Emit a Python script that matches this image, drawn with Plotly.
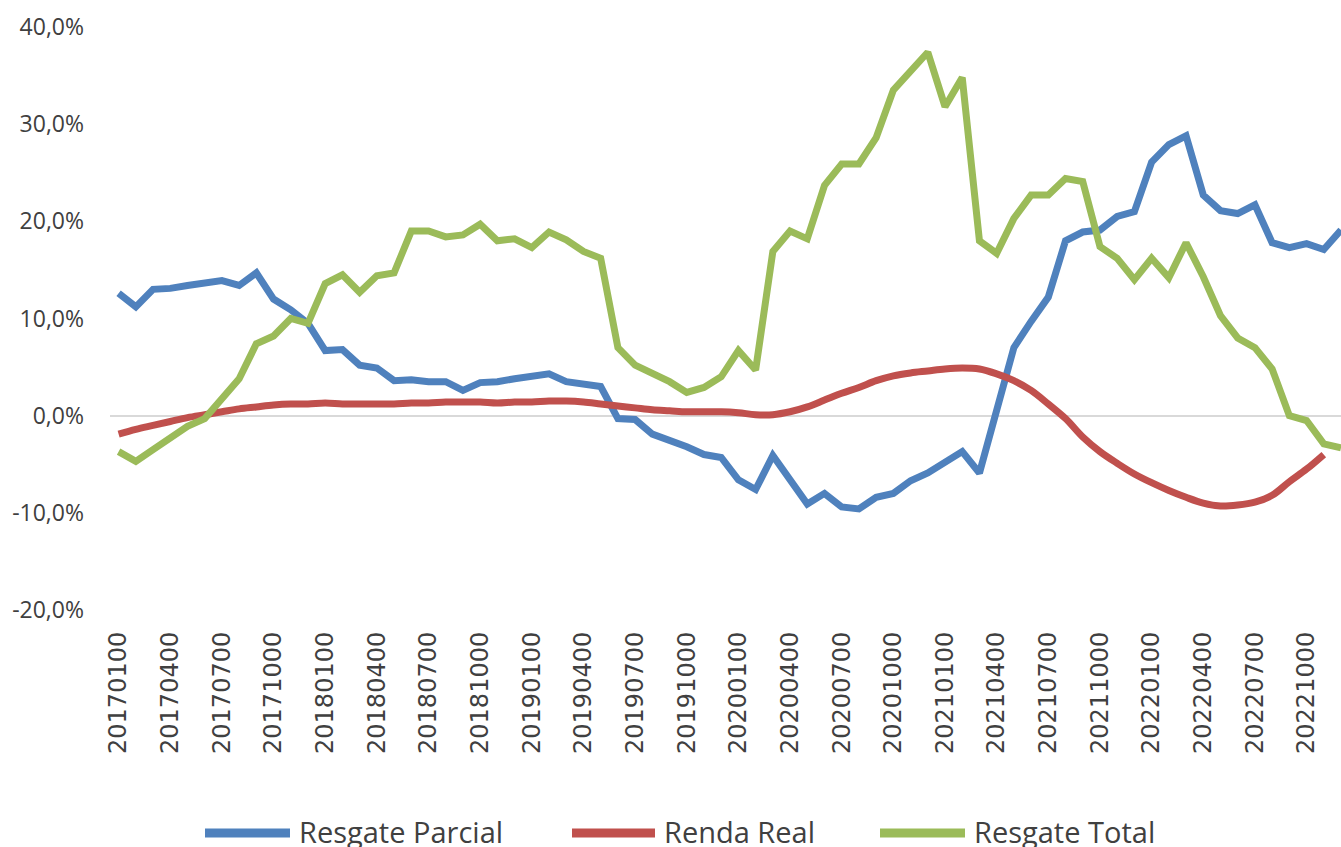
import plotly.graph_objects as go

# Monthly categories (labels as shown on the axis)
years = [2017, 2018, 2019, 2020, 2021, 2022]
months = [f"{y}{m:02d}00" for y in years for m in range(1, 13)]

resgate_parcial = [12.6, 11.2, 13.0, 13.1, 13.4, 13.6, 13.9, 13.4, 14.7, 12.0,
                   10.9, 9.5, 6.7, 6.8, 5.2, 4.9, 3.6, 3.7, 3.5, 3.5,
                   2.6, 3.4, 3.5, 3.8, 4.1, 4.3, 3.5, 3.2, 3.0, -0.3,
                   -0.4, -1.9, -2.5, -3.2, -4.0, -4.3, -6.6, -7.6, -4.1, -6.7,
                   -9.1, -8.0, -9.4, -9.6, -8.4, -8.0, -6.7, -5.9, -4.9, -3.7,
                   -5.9, 0.9, 7.0, 9.7, 12.2, 18.0, 18.9, 19.1, 20.5, 21.0,
                   26.1, 27.9, 28.8, 22.7, 21.1, 20.8, 21.7, 17.8, 17.3, 17.7,
                   17.1, 19.1]

renda_real = [-1.9, -1.4, -1.0, -0.6, -0.2, 0.1, 0.4, 0.7, 0.9, 1.1,
              1.2, 1.2, 1.3, 1.2, 1.2, 1.2, 1.2, 1.3, 1.3, 1.4,
              1.4, 1.4, 1.3, 1.4, 1.4, 1.5, 1.5, 1.4, 1.2, 1.0,
              0.8, 0.6, 0.5, 0.4, 0.4, 0.4, 0.3, 0.1, 0.1, 0.4,
              0.9, 1.6, 2.3, 2.9, 3.6, 4.1, 4.4, 4.6, 4.8, 4.9,
              4.8, 4.3, 3.6, 2.6, 1.2, -0.3, -2.2, -3.7, -4.9, -6.0,
              -6.9, -7.7, -8.4, -9.0, -9.3, -9.2, -8.9, -8.2, -6.8, -5.5,
              -4.0, None]

resgate_total = [-3.7, -4.7, -3.5, -2.4, -1.1, -0.3, 1.8, 3.8, 7.4, 8.2,
                 10.0, 9.5, 13.6, 14.5, 12.7, 14.4, 14.7, 19.0, 19.0, 18.4,
                 18.6, 19.7, 18.0, 18.2, 17.3, 18.9, 18.1, 16.9, 16.2, 7.0,
                 5.2, 4.4, 3.5, 2.4, 2.9, 4.0, 6.7, 4.7, 16.9, 19.0,
                 18.2, 23.7, 25.9, 25.9, 28.6, 33.5, 35.5, 37.4, 31.8, 34.8,
                 18.0, 16.7, 20.3, 22.7, 22.7, 24.4, 24.1, 17.4, 16.2, 14.0,
                 16.2, 14.2, 17.8, 14.3, 10.3, 8.0, 7.0, 4.8, 0.0, -0.5,
                 -2.9, -3.3]

y_tick_values = [-0.2, -0.1, 0.0, 0.1, 0.2, 0.3, 0.4]
y_tick_labels = ["-20,0%", "-10,0%", "0,0%", "10,0%", "20,0%", "30,0%", "40,0%"]

series_names = ["Resgate Parcial", "Renda Real", "Resgate Total"]
series_colors = ["#4F81BD", "#C0504D", "#9BBB59"]
series_values = [resgate_parcial, renda_real, resgate_total]
series_shapes = ["linear", "spline", "linear"]

W, H = 1341, 847
L, R, T, B = 110, 0, 27, H - 610

fig = go.Figure()
for name, color, vals, shp in zip(series_names, series_colors, series_values, series_shapes):
    fig.add_trace(go.Scatter(
        x=months,
        y=[None if v is None else v / 100 for v in vals],
        mode="lines",
        name=name,
        line=dict(color=color, width=7, shape=shp),
        showlegend=False,
        connectgaps=False,
    ))

# manual legend (long line samples as in the original), pixel positions
def px_to_paper_x(px):
    return (px - L) / (W - L - R)

def py_to_paper_y(py):
    return (H - B - py) / (H - T - B)

legend_items = [(205, 290, 297), (572, 655, 662), (880, 965, 972)]
for (x0, x1, xt), name, color in zip(legend_items, series_names, series_colors):
    fig.add_shape(type="line", xref="paper", yref="paper",
                  x0=px_to_paper_x(x0), x1=px_to_paper_x(x1),
                  y0=py_to_paper_y(833), y1=py_to_paper_y(833),
                  line=dict(color=color, width=9))
    fig.add_annotation(xref="paper", yref="paper",
                       x=px_to_paper_x(xt), y=py_to_paper_y(831),
                       xanchor="left", yanchor="middle", showarrow=False,
                       text=name,
                       font=dict(family="Open Sans", size=29, color="#404040"))

fig.update_layout(
    width=W, height=H,
    margin=dict(l=L, r=R, t=T, b=B),
    paper_bgcolor="white", plot_bgcolor="white",
    showlegend=False,
)
fig.update_xaxes(
    type="category",
    range=[-0.5, 71.0],
    tickmode="array",
    tickvals=months[::3],
    ticktext=months[::3],
    tickangle=-90,
    tickfont=dict(family="DejaVu Sans", size=24, color="#404040"),
    showgrid=False, showline=False, zeroline=False, ticks="",
    ticklabelstandoff=16,
)
fig.update_yaxes(
    range=[-0.2, 0.4],
    tickmode="array",
    tickvals=y_tick_values,
    ticktext=y_tick_labels,
    tickfont=dict(family="Open Sans", size=23, color="#404040"),
    showgrid=False, showline=False, ticks="",
    zeroline=True, zerolinecolor="#d9d9d9", zerolinewidth=2,
    ticklabelstandoff=25,
)

fig.write_html(
    "out.html",
    config={"displayModeBar": False},
    post_script="document.body.style.margin='0';document.body.style.overflow='hidden';",
)
